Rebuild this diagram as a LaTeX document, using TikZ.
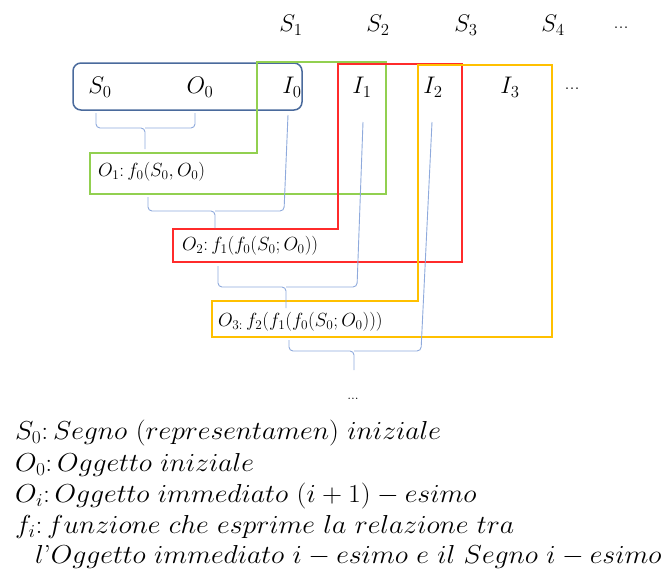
\RequirePackage{fix-cm}
\documentclass[tikz,border=0pt]{standalone}
\usetikzlibrary{positioning}

\definecolor{boxblue}{HTML}{4A6A9C}
\definecolor{boxgreen}{HTML}{92D050}
\definecolor{boxred}{HTML}{FF2B2B}
\definecolor{boxyellow}{HTML}{FFC000}
\definecolor{bracelight}{HTML}{8FAADC}

% legend lines are set a little wider
\newcommand{\wideline}[1]{\scalebox{1.07}[1]{#1}}

\begin{document}
\begin{tikzpicture}[x=1pt,y=-1pt,
  lbl/.style={inner sep=0pt,font=\fontsize{24}{28}\selectfont},
  dots/.style={inner sep=0pt,font=\fontsize{20}{24}\selectfont},
  fn/.style={inner sep=0pt,anchor=west,font=\fontsize{19}{22}\selectfont},
  legend/.style={inner sep=0pt,anchor=west,font=\fontsize{26}{30}\selectfont},
  brace/.style={bracelight,line width=0.9pt,rounded corners=4pt},
  frame/.style={line width=1.5pt}]
\useasboundingbox (0,0) rectangle (670,573);

% signs on top
\node[lbl] (s1) at (291,25) {$S_1$};
\node[lbl] (s2) at (378,25) {$S_2$};
\node[lbl] (s3) at (466,25) {$S_3$};
\node[lbl] (s4) at (553,25) {$S_4$};
\node[dots] (sdots) at (621,28) {...};

% row of starting sign, object and interpretants
\node[lbl] (S0) at (100,87) {$S_0$};
\node[lbl] (O0) at (200,87) {$O_0$};
\node[lbl] (I0) at (292,87) {$I_0$};
\node[lbl] (I1) at (362,87) {$I_1$};
\node[lbl] (I2) at (433,87) {$I_2$};
\node[lbl] (I3) at (510,87) {$I_3$};
\node[dots] (idots) at (572,89) {...};

% objects produced step by step
\node[fn] (O1) at (98,172) {$O_1{:}\,f_0(S_0,O_0)$};
\node[fn] (O2) at (182,246) {$O_2{:}\,f_1(f_0(S_0;O_0))$};
\node[fn] (O3) at (218,322) {$O_{3:}\,f_2(f_1(f_0(S_0;O_0)))$};
\node[dots,font=\fontsize{14}{16}\selectfont] (odots) at (353,399) {...};

% frames
\draw[frame,boxblue,rounded corners=8pt] (73,63) rectangle (302,110);
\draw[frame,boxgreen] (257,62) -- (386,62) -- (386,194) -- (90,194) -- (90,153) -- (257,153) -- cycle;
\draw[frame,boxred] (338,64) -- (462,64) -- (462,262) -- (173,262) -- (173,229) -- (338,229) -- cycle;
\draw[frame,boxyellow] (418,65) -- (552,65) -- (552,337) -- (212,337) -- (212,301) -- (418,301) -- cycle;

% brace ends
\coordinate (b1l) at (96,113);   % under S0
\coordinate (b1r) at (195,113);  % under O0
\coordinate (b1m) at (145,128);
\coordinate (b1t) at (145,149);  % into O1

\coordinate (b2l) at (148,197);  % under O1
\coordinate (b2r) at (288,115);  % under I0
\coordinate (b2m) at (215,211);
\coordinate (b2t) at (215,228);  % into O2

\coordinate (b3l) at (218,266);  % under O2
\coordinate (b3r) at (363,122);  % under I1
\coordinate (b3m) at (286,287);
\coordinate (b3t) at (286,308);  % into O3

\coordinate (b4l) at (289,340);  % under O3
\coordinate (b4r) at (432,122);  % under I2
\coordinate (b4m) at (354,351);
\coordinate (b4t) at (354,370);  % towards the dots

% braces
\draw[brace] (b1l) -- (b1l|-b1m) -- (b1m) -- (b1t);
\draw[brace] (b1r) -- (b1r|-b1m) -- (b1m);

\draw[brace] (b2l) -- (b2l|-b2m) -- (b2m) -- (b2t);
\draw[brace] (b2r) -- (284,211) -- (b2m);

\draw[brace] (b3l) -- (b3l|-b3m) -- (b3m) -- (b3t);
\draw[brace] (b3r) -- (357,287) -- (b3m);

\draw[brace] (b4l) -- (b4l|-b4m) -- (b4m) -- (b4t);
\draw[brace] (b4r) -- (421,351) -- (b4m);

% legend
\node[legend] (L1) at (15,433) {\wideline{$S_0{:}\,Segno\ (representamen)\ iniziale$}};
\node[legend] (L2) at (15,465) {\wideline{$O_0{:}\,Oggetto\ iniziale$}};
\node[legend] (L3) at (15,496) {\wideline{$O_i{:}\,Oggetto\ immediato\ (i+1)-esimo$}};
\node[legend] (L4) at (15,527) {\wideline{$f_i{:}\,funzione\ che\ esprime\ la\ relazione\ tra$}};
\node[legend] (L5) at (35,557) {\wideline{$l$'$Oggetto\ immediato\ i-esimo\ e\ il\ Segno\ i-esimo$}};
\end{tikzpicture}
\end{document}
